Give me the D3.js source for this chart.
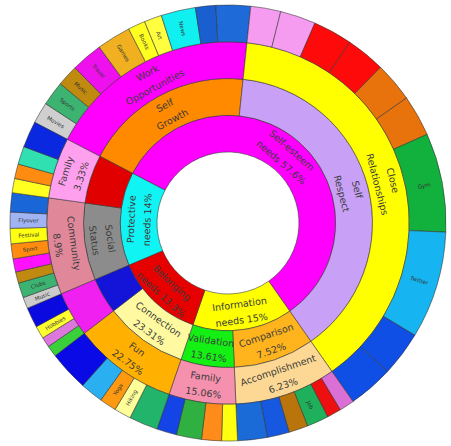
<!DOCTYPE html>
<html>
<head>
<meta charset="utf-8">
<script src="https://cdn.jsdelivr.net/npm/d3@7"></script>
<style>
  html, body { margin: 0; background: #ffffff; }
  svg { display: block; }
</style>
</head>
<body>
<svg id="chart" width="451" height="446"></svg>
<script>
// ---- data -------------------------------------------------------------
// Inner ring: need categories
const innerLabels = ["Self-esteem\nneeds 57.6%", "Information\nneeds 15%", "Belonging\nneeds 13.3%", "Protective\nneeds 14%"];
// Second ring: one entry per sub-group, with the index of its inner-ring parent
const midLabels = ["Self\nGrowth", "Self\nRespect", "Comparison\n7.52%", "Validation\n13.61%", "Connection\n23.31%", "", "Social\nStatus", ""];
const midParent = [0, 0, 1, 1, 2, 2, 3, 3];
// Third ring: one theme under each sub-group
const themeLabels = ["Work\nOpportunities", "Close\nRelationships", "Accomplishment\n6.23%", "Family\n15.06%", "Fun\n22.75%", "", "Community\n8.9%", "Family\n3.33%"];
// Outer ring: share of each activity, grouped by theme
const leafShares = [
  [5.7, 6.5, 5.7, 8.4, 9.1, 4.6, 4.7, 9.2, 5.4, 9.2],
  [8, 9.5, 10.5, 10.4, 10.6, 11, 26.4, 28.6, 12, 12],
  [4, 3.8, 5.8, 5.1, 5.9, 7.9],
  [4.2, 5.3, 6.7, 5.3],
  [7.7, 4.5, 4.5, 6.1, 10.7],
  [3, 2.7, 3.4, 5.4],
  [3, 4, 3, 3.5, 4, 4.1, 4.3, 5.1],
  [3.8, 3.9, 4.8, 7]
];
const leafNames = [
  ["Movies", "Sports", "Music", "Travel", "Games", "Books", "Art", "News", "", ""],
  ["", "", "", "", "", "", "Gym", "Twitter", "", ""],
  ["", "", "Job", "", "", ""],
  ["", "", "", ""],
  ["", "Hiking", "Yoga", "", ""],
  ["", "", "Hobbies", ""],
  ["Music", "Clubs", "", "", "Sport", "Festival", "Flyover", ""],
  ["", "", "", ""]
];

// ---- palette ----------------------------------------------------------
const innerColors = ["#ff00ff", "#ffff00", "#e60000", "#10f4f4"];
const midColors = ["#ff8a00", "#c8a0f6", "#ffb41e", "#14f014", "#fffaa0", "#1414d8", "#8c8c8c", "#e00000"];
const themeColors = ["#ff00ff", "#ffff00", "#fcd894", "#f590ae", "#ffb000", "#f020f0", "#e0889a", "#ffa0ee"];
const leafColors = [
  ["#cfcfcf", "#3cb371", "#c08a10", "#ee11ee", "#f0b020", "#ffff20", "#ffff40", "#10f0f0", "#1a5fd0", "#1e6ad8"],
  ["#f59cf0", "#f59cf0", "#ff0a0a", "#ff0a0a", "#e8720c", "#e8720c", "#12b03c", "#16b4f0", "#0f4fe6", "#0f4fe6"],
  ["#da70d6", "#ee1010", "#1eb05a", "#b9750c", "#1658e0", "#1a6ad8"],
  ["#ffff10", "#ff8c1a", "#30b040", "#1444e6"],
  ["#22b46a", "#ffff99", "#ff9a10", "#2ab0f0", "#0a0ae6"],
  ["#3ad03a", "#dd77dd", "#ffff30", "#0a0ae0"],
  ["#cccccc", "#3cb371", "#c08a10", "#ff10ff", "#ff8c10", "#ffff10", "#a0b4f4", "#1866d8"],
  ["#ffff20", "#ff8c10", "#30e0b0", "#0a28e0"]
];

// ---- hierarchy --------------------------------------------------------
const rootData = {
  name: "",
  children: innerLabels.map((l, i) => ({ name: l, color: innerColors[i], children: [] }))
};
midLabels.forEach((l, j) => {
  const theme = {
    name: themeLabels[j],
    color: themeColors[j],
    children: leafShares[j].map((v, k) => ({ name: leafNames[j][k], color: leafColors[j][k], value: v }))
  };
  rootData.children[midParent[j]].children.push({ name: l, color: midColors[j], children: [theme] });
});

const root = d3.hierarchy(rootData).sum(d => d.value || 0);
d3.partition().size([2 * Math.PI, 5])(root);

// ---- drawing ----------------------------------------------------------
const cx = 228, cy = 223;
const startAngle = 297.5 * Math.PI / 180;   // first inner segment begins upper-left
const radius = d3.scaleLinear().domain([1, 5]).range([71, 218]);

const arc = d3.arc()
  .startAngle(d => d.x0 + startAngle)
  .endAngle(d => d.x1 + startAngle)
  .innerRadius(d => radius(d.y0))
  .outerRadius(d => radius(d.y1));

const svg = d3.select("#chart");
const g = svg.append("g").attr("transform", `translate(${cx},${cy})`);

g.selectAll("path.seg")
  .data(root.descendants().filter(d => d.depth > 0))
  .join("path")
  .attr("class", "seg")
  .attr("d", arc)
  .attr("fill", d => d.data.color)
  .attr("stroke", "#333")
  .attr("stroke-opacity", 0.8)
  .attr("stroke-width", 0.7);

function midAngle(d) { return (d.x0 + d.x1) / 2 + startAngle; }
function deg(a) { return ((a * 180 / Math.PI) % 360 + 360) % 360; }

// Labels on the three inner rings, written along the arc
const labelled = root.descendants().filter(d => d.depth >= 1 && d.depth <= 3 && d.data.name);
labelled.forEach(d => {
  const a = midAngle(d);
  const t = deg(a);
  const rr = (radius(d.y0) + radius(d.y1)) / 2;
  const rot = (t > 90 && t < 270) ? t - 180 : (t >= 270 ? t - 360 : t);
  const lines = d.data.name.split("\n");
  const text = g.append("text")
    .attr("transform", `translate(${rr * Math.sin(a)},${-rr * Math.cos(a)}) rotate(${rot})`)
    .attr("text-anchor", "middle")
    .attr("dominant-baseline", "central")
    .attr("font-family", "DejaVu Sans, sans-serif")
    .attr("font-size", 9.5)
    .attr("fill", "#3b3b3b");
  lines.forEach((s, i) => {
    text.append("tspan")
      .attr("x", 0)
      .attr("y", (i - (lines.length - 1) / 2) * 16)
      .text(s);
  });
});

// Small radial labels on the outer ring
root.leaves().filter(d => d.data.name).forEach(d => {
  const a = midAngle(d);
  const t = deg(a);
  const rr = (radius(d.y0) + radius(d.y1)) / 2;
  const rot = t < 180 ? t - 90 : t + 90;
  g.append("text")
    .attr("transform", `translate(${rr * Math.sin(a)},${-rr * Math.cos(a)}) rotate(${rot})`)
    .attr("text-anchor", "middle")
    .attr("dominant-baseline", "central")
    .attr("font-family", "DejaVu Sans, sans-serif")
    .attr("font-size", 5.5)
    .attr("fill", "#333")
    .text(d.data.name);
});
</script>
</body>
</html>
